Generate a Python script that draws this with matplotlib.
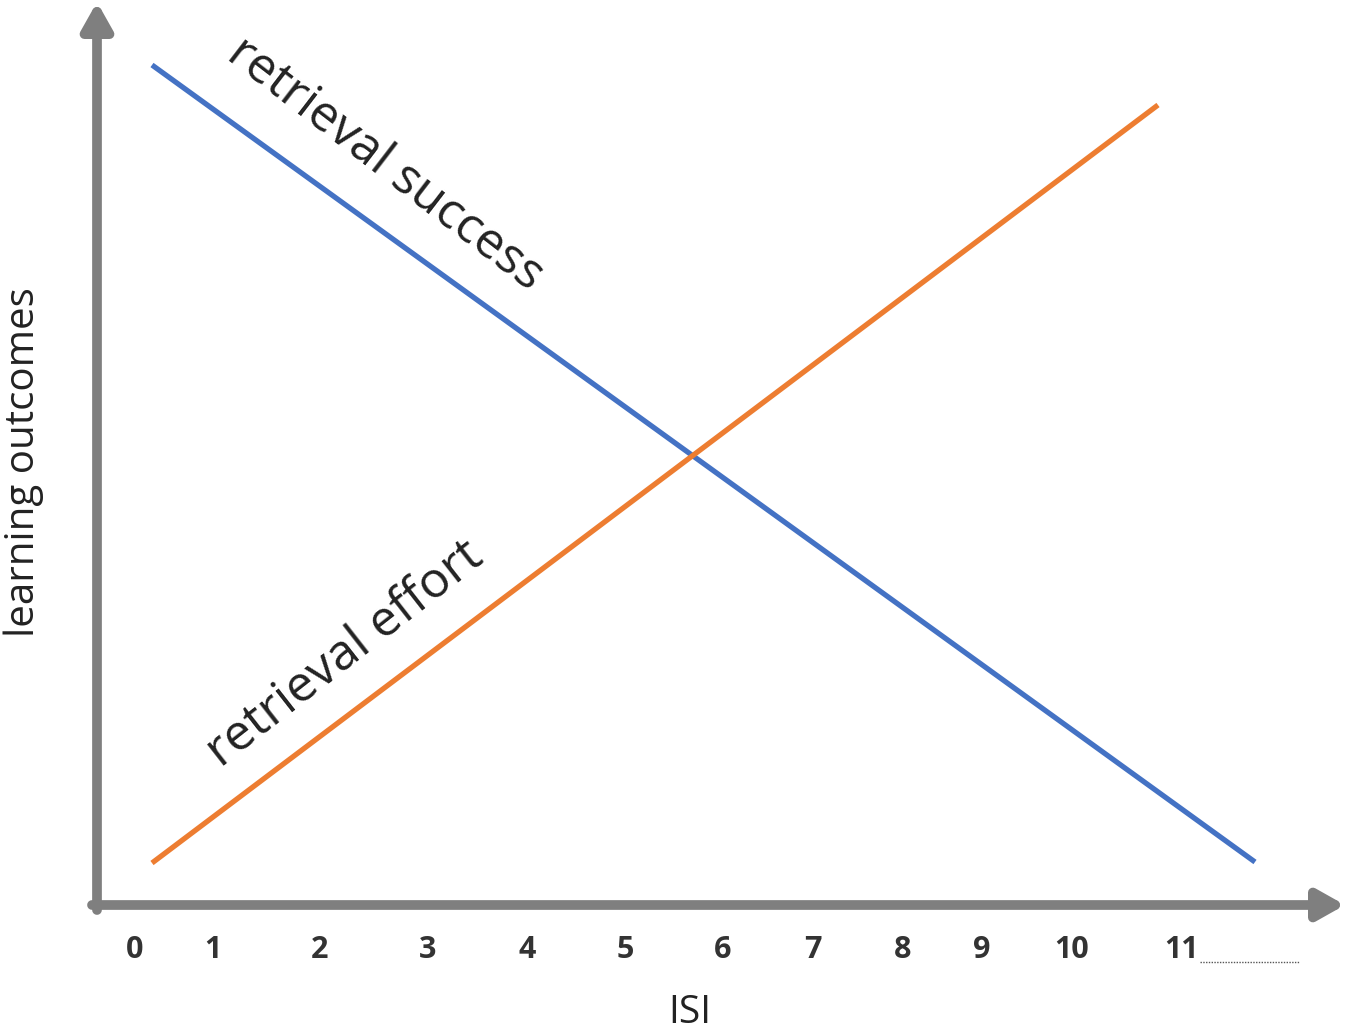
import matplotlib.pyplot as plt

# Pixel-space layout (y grows downward)
tick_labels = ["0", "1", "2", "3", "4", "5", "6", "7", "8", "9", "10", "11"]
tick_pos = [135, 213, 320, 428, 527, 625, 723, 813, 903, 982, 1072, 1182]

success_x = [152, 1255]
success_y = [65, 862]
effort_x = [152, 1158]
effort_y = [863, 105]

gray = "#7f7f7f"
blue = "#4472c4"
orange = "#ed7d31"

plt.rcParams["font.family"] = ["Open Sans", "DejaVu Sans"]

fig = plt.figure(figsize=(13.5, 10.34), dpi=100)
ax = fig.add_axes([0, 0, 1, 1])
ax.set_xlim(0, 1350)
ax.set_ylim(1034, 0)
ax.axis("off")

# Axis arrows
ax.annotate("", xy=(97, 2), xytext=(97, 910),
            arrowprops=dict(arrowstyle="-|>,head_width=0.9,head_length=1.6",
                            color=gray, lw=7, shrinkA=0, shrinkB=0))
ax.annotate("", xy=(1345, 905), xytext=(92, 905),
            arrowprops=dict(arrowstyle="-|>,head_width=0.9,head_length=1.6",
                            color=gray, lw=7, shrinkA=0, shrinkB=0))

# Lines
ax.plot(success_x, success_y, color=blue, lw=3.8, solid_capstyle="butt")
ax.plot(effort_x, effort_y, color=orange, lw=3.8, solid_capstyle="butt")

# Labels along lines
ax.text(385, 165, "retrieval success", fontsize=36, color="#222222",
        rotation=-37.5, rotation_mode="anchor", ha="center", va="center",
        transform_rotates_text=False)
ax.text(345, 655, "retrieval effort", fontsize=36, color="#222222",
        rotation=38, rotation_mode="anchor", ha="center", va="center")

# Ticks
for p, lab in zip(tick_pos, tick_labels):
    ax.text(p, 950, lab, fontsize=22, fontweight="bold", color="#333333",
            ha="center", va="center")
ax.plot([1200, 1300], [962, 962], color="#555555", lw=1, ls=(0, (1, 1)))

ax.text(690, 1013, "ISI", fontsize=28, color="#222222", ha="center", va="center")
ax.text(24, 462, "learning outcomes", fontsize=29, color="#222222",
        rotation=90, ha="center", va="center")

fig.savefig("out.png", dpi=100)
